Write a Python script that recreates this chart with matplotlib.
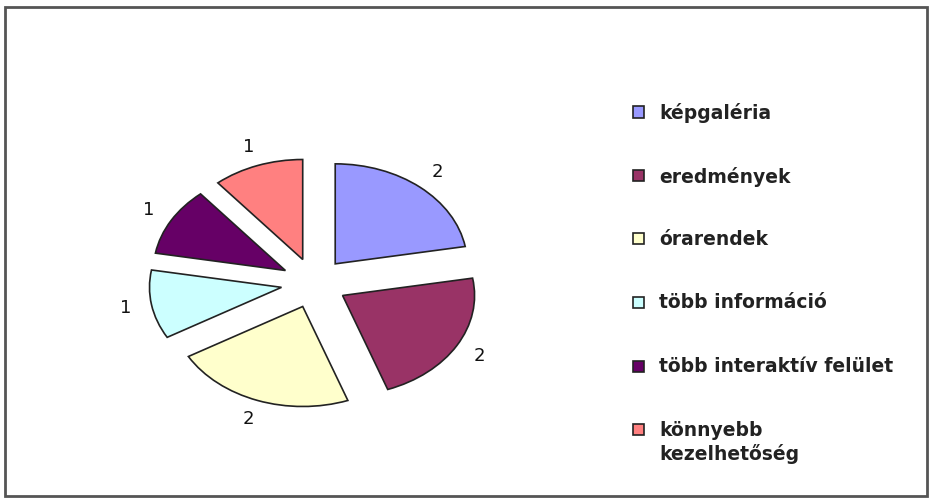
import matplotlib.pyplot as plt
from matplotlib.patches import Rectangle

categories = ["képgaléria", "eredmények", "órarendek", "több információ",
              "több interaktív felület", "könnyebb\nkezelhetőség"]
values = [2, 2, 2, 1, 1, 1]
colors = ["#9999FF", "#993366", "#FFFFCC", "#CCFFFF", "#660066", "#FF8080"]

W, H = 931, 498


def fx(px):
    return px / W


def fy(py):
    return (H - py) / H


fig = plt.figure(figsize=(W / 100, H / 100), dpi=100)
ax = fig.add_axes([0, 0, 1, 1])

# pie centre at (314, 283) px, ellipse semi-axes 132 x 100 px
cx, cy, a, b = 314, 283, 132, 100
wedges, texts = ax.pie(
    values,
    colors=colors,
    labels=[str(v) for v in values],
    labeldistance=1.2,
    explode=[0.25] * len(values),
    startangle=90,
    counterclock=False,
    wedgeprops=dict(edgecolor="#222222", linewidth=1.2),
    textprops=dict(fontsize=13, ha="center", va="center", color="#111111"),
)
ax.set_aspect("auto")
ax.set_xlim(-cx / a, (W - cx) / a)
ax.set_ylim((cy - H) / b, cy / b)
ax.axis("off")

# legend drawn by hand to get the wide Excel-style spacing
for i, (label, color) in enumerate(zip(categories, colors)):
    yc = 112 + i * 63.5
    fig.patches.append(Rectangle((fx(633), fy(yc + 5.5)), 11 / W, 11 / H,
                                 transform=fig.transFigure, facecolor=color,
                                 edgecolor="#222222", linewidth=1.2))
    fig.text(fx(659), fy(yc - 9), label, fontsize=13.5, fontweight="bold",
             ha="left", va="top", color="#222222", linespacing=1.25)

# outer frame
fig.patches.append(Rectangle((fx(5), fy(496)), fx(927) - fx(5), fy(7) - fy(496),
                             transform=fig.transFigure, fill=False,
                             edgecolor="#555555", linewidth=2))

fig.savefig("out.png", dpi=100)
